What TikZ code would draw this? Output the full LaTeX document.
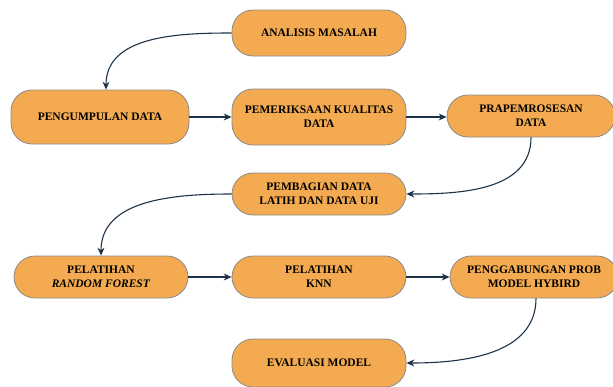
\documentclass[tikz,border=0pt]{standalone}
\usepackage{fontspec}
\setmainfont{Liberation Serif}
\usetikzlibrary{arrows.meta}

\begin{document}
\begin{tikzpicture}[x=1pt, y=-1pt,
    stepBox/.style={draw=borderColour, fill=fillColour, line width=0.8pt, rounded corners=21pt,
        minimum width=174pt, minimum height=42pt, align=center, inner sep=2pt,
        font=\fontsize{11.5}{14}\selectfont\bfseries},
    flowArrow/.style={draw=arrowColour, line width=1.1pt, -{Stealth[length=8pt,width=7pt]}}]

    \definecolor{borderColour}{HTML}{8A8A8A}
    \definecolor{fillColour}{HTML}{F4AA50}
    \definecolor{arrowColour}{HTML}{1E3246}

    % Picture size
    \useasboundingbox (0,0) rectangle (613,386);

    % First row
    \node[stepBox, minimum height=46pt] (analisis) at (319,33) {ANALISIS MASALAH};
    \node[stepBox, minimum width=178pt, minimum height=54pt] (pengumpulan) at (100,117) {PENGUMPULAN DATA};
    \node[stepBox, minimum height=56pt] (pemeriksaan) at (319,117) {PEMERIKSAAN KUALITAS\\DATA};
    \node[stepBox, minimum width=168pt] (prapemrosesan) at (531,116) {PRAPEMROSESAN\\DATA};

    % Splitting
    \node[stepBox] (pembagian) at (319,194) {PEMBAGIAN DATA\\LATIH DAN DATA UJI};

    % Training row
    \node[stepBox] (randomforest) at (101,277) {PELATIHAN\\\textit{RANDOM FOREST}};
    \node[stepBox] (knn) at (319,277) {PELATIHAN\\KNN};
    \node[stepBox, minimum width=168pt] (hybrid) at (534,277) {PENGGABUNGAN PROB\\MODEL HYBIRD};

    % Evaluation
    \node[stepBox, minimum height=48pt] (evaluasi) at (319,363) {EVALUASI MODEL};

    % Draw arrows
    \draw[flowArrow] (analisis.west) to[out=180,in=90] ([xshift=6pt]pengumpulan.north);
    \draw[flowArrow] (pengumpulan.east) -- (pemeriksaan.west);
    \draw[flowArrow] (pemeriksaan.east) -- (pemeriksaan.east -| prapemrosesan.west);
    \draw[flowArrow] (prapemrosesan.south) to[out=-90,in=0] (pembagian.east);
    \draw[flowArrow] (pembagian.west) to[out=180,in=90] (randomforest.north);
    \draw[flowArrow] (randomforest.east) -- (knn.west);
    \draw[flowArrow] (knn.east) -- (knn.east -| hybrid.west);
    \draw[flowArrow] ([xshift=2pt]hybrid.south) to[out=-90,in=0] (evaluasi.east);

\end{tikzpicture}
\end{document}
